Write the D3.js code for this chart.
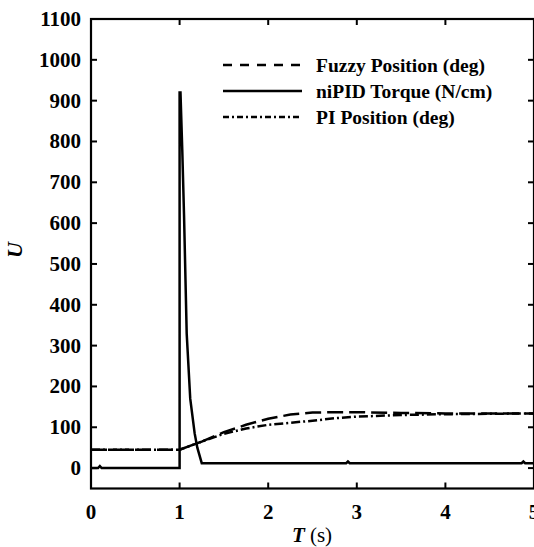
<!DOCTYPE html>
<html>
<head>
<meta charset="utf-8">
<script src="https://cdn.jsdelivr.net/npm/d3@7"></script>
<style>
  body { margin: 0; background: #fff; }
  text { font-family: "Liberation Serif", "Times New Roman", serif; }
</style>
</head>
<body>
<div id="chart"></div>
<script>
// data
var xTicks = [0, 1, 2, 3, 4, 5];
var yTicks = [0, 100, 200, 300, 400, 500, 600, 700, 800, 900, 1000, 1100];

var fuzzyT = [0, 1.0, 1.25, 1.5, 1.75, 2.0, 2.25, 2.5, 2.75, 3.0, 3.5, 4.0, 5.0];
var fuzzyU = [45, 45, 65, 88, 106, 121, 131, 136, 137, 137, 135, 134, 134];

var pidT = [0, 0.08, 0.1, 0.12, 1.0, 1.0, 1.01, 1.03, 1.05, 1.08, 1.12, 1.17, 1.2, 1.25, 2.88, 2.9, 2.92, 4.86, 4.88, 4.9, 5.0];
var pidU = [0, 0, 5, 0, 0, 920, 920, 780, 620, 330, 170, 85, 50, 12, 12, 16, 12, 12, 16, 12, 12];

var piT = [0, 1.0, 1.25, 1.5, 1.75, 2.0, 2.25, 2.5, 2.75, 3.0, 3.5, 4.0, 4.5, 5.0];
var piU = [45, 45, 65, 84, 97, 106, 111, 116, 122, 126, 130, 132, 133, 134];

var legendNames = ["Fuzzy Position (deg)", "niPID Torque (N/cm)", "PI Position (deg)"];

var width = 534, height = 547;
var pLeft = 91, pRight = 534, pTop = 19, pBottom = 488.5;

var svg = d3.select("#chart")
    .append("svg")
    .attr("width", width)
    .attr("height", height);

var x = d3.scaleLinear().domain([0, 5]).range([pLeft, pRight]);
var y = d3.scaleLinear().domain([-50, 1100]).range([pBottom, pTop]);

var line = d3.line()
    .x(function (d) { return x(d[0]); })
    .y(function (d) { return y(d[1]); });

var series = [
    { t: fuzzyT, u: fuzzyU, dash: "16,6" },
    { t: pidT, u: pidU, dash: null },
    { t: piT, u: piU, dash: "9,3,2,3" }
];

series.forEach(function (s) {
    var pts = s.t.map(function (t, i) { return [t, s.u[i]]; });
    svg.append("path")
        .datum(pts)
        .attr("d", line)
        .attr("fill", "none")
        .attr("stroke", "#000")
        .attr("stroke-width", 2.5)
        .attr("stroke-dasharray", s.dash);
});

// frame
svg.append("rect")
    .attr("x", pLeft)
    .attr("y", pTop)
    .attr("width", pRight - pLeft)
    .attr("height", pBottom - pTop)
    .attr("fill", "none")
    .attr("stroke", "#000")
    .attr("stroke-width", 2.2);

// ticks, all pointing inward
var tickLen = 6;
svg.selectAll(".xtb").data(xTicks).enter().append("line")
    .attr("x1", function (d) { return x(d); }).attr("x2", function (d) { return x(d); })
    .attr("y1", pBottom).attr("y2", pBottom - tickLen)
    .attr("stroke", "#000").attr("stroke-width", 2);
svg.selectAll(".xtt").data(xTicks).enter().append("line")
    .attr("x1", function (d) { return x(d); }).attr("x2", function (d) { return x(d); })
    .attr("y1", pTop).attr("y2", pTop + tickLen)
    .attr("stroke", "#000").attr("stroke-width", 2);
svg.selectAll(".ytl").data(yTicks).enter().append("line")
    .attr("x1", pLeft).attr("x2", pLeft + tickLen)
    .attr("y1", function (d) { return y(d); }).attr("y2", function (d) { return y(d); })
    .attr("stroke", "#000").attr("stroke-width", 2);
svg.selectAll(".ytr").data(yTicks).enter().append("line")
    .attr("x1", pRight).attr("x2", pRight - tickLen)
    .attr("y1", function (d) { return y(d); }).attr("y2", function (d) { return y(d); })
    .attr("stroke", "#000").attr("stroke-width", 2);

// tick labels
svg.selectAll(".xl").data(xTicks).enter().append("text")
    .attr("x", function (d) { return x(d); })
    .attr("y", 519)
    .attr("text-anchor", "middle")
    .style("font-size", "21px")
    .style("font-weight", "bold")
    .text(function (d) { return d; });

svg.selectAll(".yl").data(yTicks).enter().append("text")
    .attr("x", 81)
    .attr("y", function (d) { return y(d) + 7; })
    .attr("text-anchor", "end")
    .style("font-size", "21px")
    .style("font-weight", "bold")
    .text(function (d) { return d; });

// axis titles
var xt = svg.append("text")
    .attr("x", 312)
    .attr("y", 542)
    .attr("text-anchor", "middle")
    .style("font-size", "21px");
xt.append("tspan").style("font-weight", "bold").style("font-style", "italic").text("T");
xt.append("tspan").text(" (s)");

svg.append("text")
    .attr("transform", "translate(22,250) rotate(-90)")
    .attr("text-anchor", "middle")
    .style("font-size", "22px")
    .style("font-weight", "bold")
    .style("font-style", "italic")
    .text("U");

// legend
var legDash = ["9,8", null, "6,3,2,3"];
var legY = [65, 91, 117];
legendNames.forEach(function (name, i) {
    svg.append("line")
        .attr("x1", 223).attr("x2", 302)
        .attr("y1", legY[i]).attr("y2", legY[i])
        .attr("stroke", "#000")
        .attr("stroke-width", 2.5)
        .attr("stroke-dasharray", legDash[i]);
    svg.append("text")
        .attr("x", 316)
        .attr("y", legY[i] + 6.5)
        .style("font-size", "19.5px")
        .style("font-weight", "bold")
        .text(name);
});
</script>
</body>
</html>
